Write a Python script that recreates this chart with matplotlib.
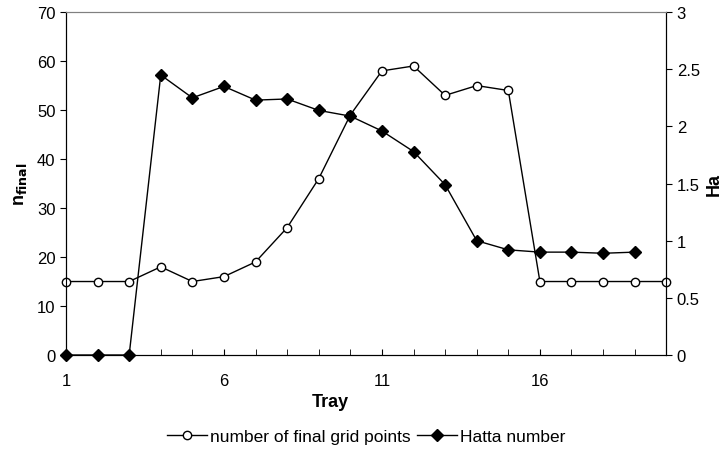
import matplotlib.pyplot as plt
import numpy as np

plt.rcParams['font.family'] = ['Liberation Sans', 'DejaVu Sans']

trays = list(range(1, 21))
grid_points = [15, 15, 15, 18, 15, 16, 19, 26, 36, 49, 58, 59, 53, 55, 54, 15, 15, 15, 15, 15]

hatta_trays = list(range(1, 20))
hatta = [0, 0, 0, 2.45, 2.25, 2.35, 2.23, 2.24, 2.14, 2.09, 1.96, 1.78, 1.49, 1.0, 0.92, 0.90, 0.90, 0.89, 0.90]

fig = plt.figure(figsize=(7.25, 4.52), dpi=100)
ax = fig.add_axes([0.091, 0.2124, 0.828, 0.7586])
ax2 = ax.twinx()

l1, = ax.plot(trays, grid_points, color='black', lw=1, marker='o', markersize=6,
              markerfacecolor='white', markeredgecolor='black', markeredgewidth=1,
              label="number of final grid points", zorder=3, clip_on=False)
l2, = ax2.plot(hatta_trays, hatta, color='black', lw=1, marker='D', markersize=6.5,
               markerfacecolor='black', label="Hatta number", zorder=3, clip_on=False)

ax.set_xlim(1, 20)
ax.set_ylim(0, 70)
ax2.set_ylim(0, 3)
ax.set_xticks([1, 6, 11, 16])
ax.set_xticks(trays, minor=True)
ax.set_yticks(range(0, 71, 10))
ax2.set_yticks([0, 0.5, 1, 1.5, 2, 2.5, 3])
ax2.set_yticklabels(['0', '0.5', '1', '1.5', '2', '2.5', '3'])

ax.tick_params(axis='x', which='both', direction='in', length=4, labelsize=12, pad=13)
ax.tick_params(axis='y', direction='out', length=4, labelsize=12)
ax2.tick_params(axis='y', direction='out', length=4, labelsize=12)

for a in (ax, ax2):
    a.spines['top'].set_color('#808080')
    a.spines['left'].set_color('black')
    a.spines['right'].set_color('black')
    a.spines['bottom'].set_color('black')

ax.set_xlabel("Tray", fontsize=13, fontweight='bold', labelpad=2)
ax.xaxis.set_label_coords(0.44, -0.11)
ax.set_ylabel(r"n$_{\mathbf{final}}$", fontsize=13, fontweight='bold', labelpad=6)
ax2.set_ylabel("Ha", fontsize=13, fontweight='bold', labelpad=4)

fig.legend(handles=[l1, l2], loc='lower center', bbox_to_anchor=(0.505, -0.02), ncol=2,
           frameon=False, fontsize=12.5, handlelength=2.3, handletextpad=0.15, columnspacing=0.4)

fig.savefig("out.png", dpi=100)
